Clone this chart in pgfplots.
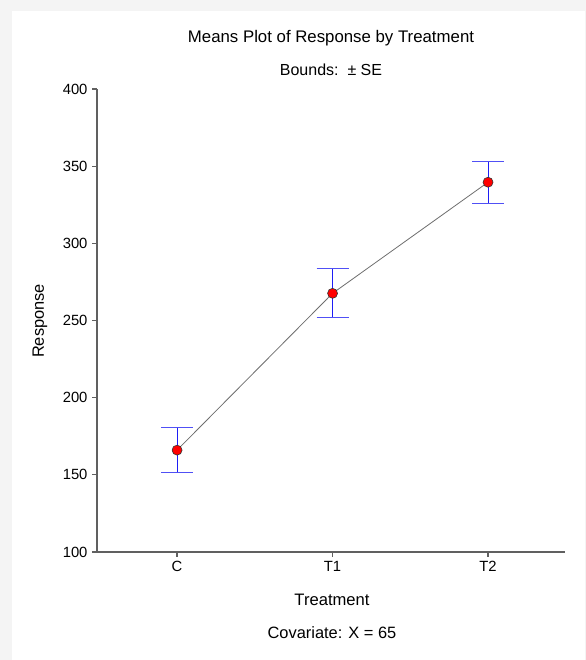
\documentclass[border=0pt]{standalone}
\usepackage{pgfplots}
\pgfplotsset{compat=1.18}
\usepackage{fontspec}
\setmainfont{Liberation Sans}
\definecolor{bggrey}{RGB}{244,244,244}
\definecolor{axgrey}{RGB}{96,96,96}
\definecolor{lngrey}{RGB}{110,110,110}
\definecolor{ebblue}{RGB}{30,30,245}
\definecolor{capblue}{RGB}{80,80,245}
\begin{document}
\begin{tikzpicture}
\useasboundingbox (0,0) rectangle (586bp,660bp);
\fill[bggrey] (0,0) rectangle (586bp,660bp);
\fill[white] (12bp,0) rectangle (585bp,649bp);
\begin{axis}[
  at={(97bp,108bp)}, anchor=south west,
  scale only axis, width=468bp, height=463bp,
  xmin=-0.515, xmax=2.495, ymin=100, ymax=400,
  axis x line*=bottom, axis y line*=left,
  axis line style={axgrey, line width=1.6bp, -},
  xtick={0,1,2}, xticklabels={C,T1,T2},
  ytick={100,150,...,400},
  tick align=outside, major tick length=5bp,
  tick style={axgrey, line width=1.2bp},
  ticklabel style={font=\fontsize{14.8bp}{16bp}\selectfont},
  /pgf/number format/assume math mode=true,
  yticklabel style={xshift=-1bp},
  xticklabel style={yshift=-1bp},
  clip=false,
]
% error bars: vertical stems
\addplot[ebblue, line width=1.0bp, forget plot] coordinates {(0,151.6) (0,180.4)};
\addplot[ebblue, line width=1.0bp, forget plot] coordinates {(1,251.8) (1,283.4)};
\addplot[ebblue, line width=1.0bp, forget plot] coordinates {(2,326.0) (2,353.2)};
% caps
\addplot[capblue, line width=1.1bp, forget plot] coordinates {(-0.103,151.6) (0.103,151.6)};
\addplot[capblue, line width=1.1bp, forget plot] coordinates {(-0.103,180.4) (0.103,180.4)};
\addplot[capblue, line width=1.1bp, forget plot] coordinates {(0.897,251.8) (1.103,251.8)};
\addplot[capblue, line width=1.1bp, forget plot] coordinates {(0.897,283.4) (1.103,283.4)};
\addplot[capblue, line width=1.1bp, forget plot] coordinates {(1.897,326.0) (2.103,326.0)};
\addplot[capblue, line width=1.1bp, forget plot] coordinates {(1.897,353.2) (2.103,353.2)};
% means
\addplot[lngrey, line width=0.8bp, mark=*, mark size=5bp,
  mark options={fill=red, draw=black!80, line width=0.6bp}]
  coordinates {
    (0,166.0)
    (1,267.6)
    (2,339.6)
  };
\end{axis}
\node[font=\fontsize{16.8bp}{19bp}\selectfont] at (331bp,622bp) {Means Plot of Response by Treatment};
\node[font=\fontsize{16bp}{18bp}\selectfont] at (331bp,590bp) {Bounds:\ \ ± SE};
\node[font=\fontsize{16.6bp}{19bp}\selectfont] at (332bp,60bp) {Treatment};
\node[font=\fontsize{16.4bp}{19bp}\selectfont] at (332bp,27bp) {Covariate: X = 65};
\node[font=\fontsize{16.4bp}{19bp}\selectfont, rotate=90] at (40bp,339bp) {Response};
\end{tikzpicture}
\end{document}
